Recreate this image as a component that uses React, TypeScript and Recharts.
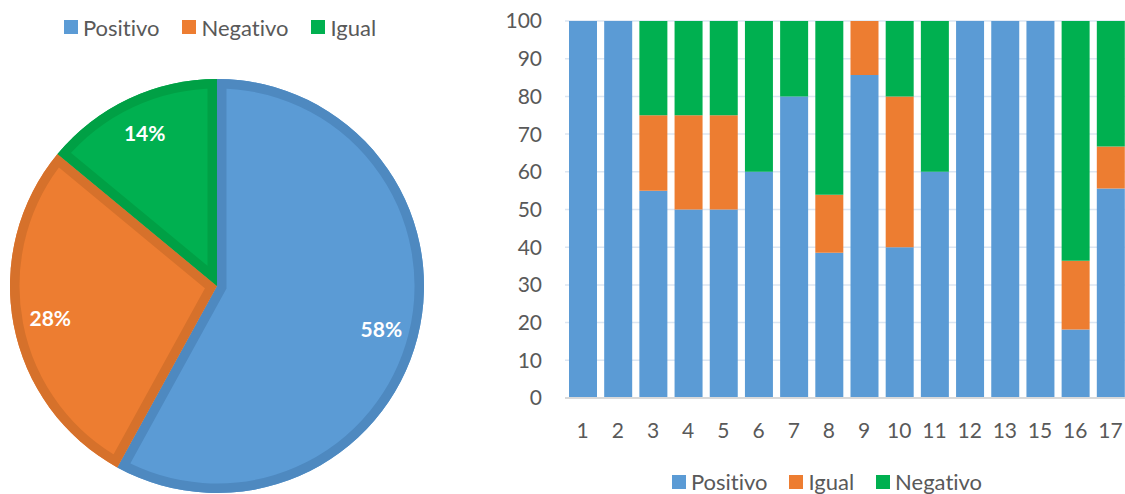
import React from 'react';
import {
  PieChart,
  Pie,
  Cell,
  Sector,
  BarChart,
  Bar,
  XAxis,
  YAxis,
  CartesianGrid,
  Legend,
} from 'recharts';

// pie: overall share
const pieNames = ['Positivo', 'Negativo', 'Igual'];
const pieValues = [58, 28, 14];

// bars: share per item (%)
const categories = ['1', '2', '3', '4', '5', '6', '7', '8', '9', '10', '11', '12', '13', '15', '16', '17'];
const positivo = [100, 100, 55, 50, 50, 60, 80, 38.5, 85.7, 40, 60, 100, 100, 100, 18.2, 55.6];
const igual = [0, 0, 20, 25, 25, 0, 0, 15.4, 14.3, 40, 0, 0, 0, 0, 18.2, 11.1];
const negativo = [0, 0, 25, 25, 25, 40, 20, 46.1, 0, 20, 40, 0, 0, 0, 63.6, 33.3];
const yTicks = [0, 10, 20, 30, 40, 50, 60, 70, 80, 90, 100];

const BLUE = '#5B9BD5';
const ORANGE = '#ED7D31';
const GREEN = '#00B050';
const TEXT = '#595959';
const FONT = 'Lato, "Open Sans", sans-serif';

const pieColors = [BLUE, ORANGE, GREEN];
const pieBorders = ['#4E89C0', '#D6712B', '#00A045'];

const pieData = pieNames.map((name, i) => ({ name, value: pieValues[i] }));
const barData = categories.map((cat, i) => ({
  cat,
  Positivo: positivo[i],
  Igual: igual[i],
  Negativo: negativo[i],
}));

const RAD = Math.PI / 180;

// label renderer also paints the inset border of each slice
const renderSliceLabel = (props: any) => {
  const { cx, cy, outerRadius, startAngle, endAngle, midAngle, percent, index } = props;
  const id = `pie-clip-${index}`;
  const r = outerRadius * 0.82;
  const x = cx + r * Math.cos(-midAngle * RAD);
  const y = cy + r * Math.sin(-midAngle * RAD);
  return (
    <g key={id}>
      <defs>
        <clipPath id={id}>
          <Sector cx={cx} cy={cy} innerRadius={0} outerRadius={outerRadius} startAngle={startAngle} endAngle={endAngle} />
        </clipPath>
      </defs>
      <Sector
        cx={cx}
        cy={cy}
        innerRadius={0}
        outerRadius={outerRadius}
        startAngle={startAngle}
        endAngle={endAngle}
        fill="none"
        stroke={pieBorders[index]}
        strokeWidth={19}
        clipPath={`url(#${id})`}
      />
      <text
        x={x}
        y={y}
        fill="#fff"
        textAnchor="middle"
        dominantBaseline="central"
        style={{ fontFamily: FONT, fontSize: 21, fontWeight: 700 }}
      >
        {`${Math.round(percent * 100)}%`}
      </text>
    </g>
  );
};

function LegendRow({ names, colors, gap, height, padTop, padLeft }: any) {
  return (
    <div
      style={{
        height,
        paddingTop: padTop,
        paddingLeft: padLeft,
        boxSizing: 'border-box',
        display: 'flex',
        alignItems: 'center',
        justifyContent: 'center',
        fontFamily: FONT,
        fontSize: 22,
        fontVariantLigatures: 'none',
        color: TEXT,
      }}
    >
      {names.map((n: string, i: number) => (
        <div key={n} style={{ display: 'flex', alignItems: 'center', marginRight: i < names.length - 1 ? gap : 0 }}>
          <span style={{ width: 14, height: 14, background: colors[i], marginRight: 5, display: 'inline-block' }} />
          <span>{n}</span>
        </div>
      ))}
    </div>
  );
}

export default function App() {
  return (
    <div
      style={{
        position: 'absolute',
        left: 0,
        top: 0,
        width: 1125,
        height: 494,
        overflow: 'hidden',
        background: '#fff',
        fontFamily: FONT,
      }}
    >
      <div style={{ position: 'absolute', left: 0, top: 0 }}>
        <PieChart width={440} height={494} margin={{ top: 0, right: 0, bottom: 0, left: 0 }}>
          <Legend
            verticalAlign="top"
            align="center"
            wrapperStyle={{ top: 0, left: 0, width: 440 }}
            content={() => (
              <LegendRow names={pieNames} colors={pieColors} gap={23} height={50} padTop={4} padLeft={0} />
            )}
          />
          <Pie
            data={pieData}
            dataKey="value"
            nameKey="name"
            cx={217}
            cy={236}
            outerRadius={207}
            startAngle={90}
            endAngle={-270}
            stroke="none"
            labelLine={false}
            label={renderSliceLabel}
            isAnimationActive={false}
          >
            {pieData.map((entry, i) => (
              <Cell key={`cell-${i}`} fill={pieColors[i]} />
            ))}
          </Pie>
        </PieChart>
      </div>

      <div style={{ position: 'absolute', left: 490, top: 0 }}>
        <BarChart
          width={640}
          height={494}
          data={barData}
          margin={{ top: 21, right: 2, bottom: 6, left: 0 }}
          barSize={28}
        >
          <CartesianGrid vertical={false} stroke="#DCE6F2" strokeWidth={1.5} />
          <XAxis
            dataKey="cat"
            interval={0}
            tickLine={false}
            axisLine={{ stroke: '#D9D9D9', strokeWidth: 2 }}
            height={60}
            tickMargin={19}
            tick={{ fill: TEXT, fontSize: 21, fontFamily: FONT }}
          />
          <YAxis
            domain={[0, 100]}
            ticks={yTicks}
            interval={0}
            axisLine={false}
            tickLine={false}
            width={75}
            tickMargin={17}
            tick={{ fill: TEXT, fontSize: 21, fontFamily: FONT }}
          />
          <Legend
            verticalAlign="bottom"
            wrapperStyle={{ bottom: 0, left: 0, width: 640 }}
            content={() => (
              <LegendRow
                names={['Positivo', 'Igual', 'Negativo']}
                colors={[BLUE, ORANGE, GREEN]}
                gap={22}
                height={30}
                padTop={5}
                padLeft={34}
              />
            )}
          />
          <Bar dataKey="Positivo" stackId="a" fill={BLUE} isAnimationActive={false} />
          <Bar dataKey="Igual" stackId="a" fill={ORANGE} isAnimationActive={false} />
          <Bar dataKey="Negativo" stackId="a" fill={GREEN} isAnimationActive={false} />
        </BarChart>
      </div>
    </div>
  );
}
